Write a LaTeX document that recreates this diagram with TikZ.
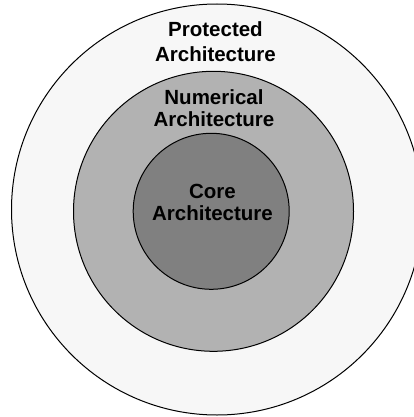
\documentclass[tikz,border=0pt]{standalone}
\usepackage{fontspec}
\setmainfont{Liberation Sans}
\definecolor{OuterClr}{gray}{0.97}
\definecolor{MidClr}{gray}{0.70}
\definecolor{CoreClr}{gray}{0.50}

\begin{document}
\begin{tikzpicture}[x=1pt,y=-1pt,
  ring/.style={circle,draw=black,line width=1pt,inner sep=0pt},
  lbl/.style={align=center,inner sep=0pt,anchor=north,
    font=\bfseries\fontsize{20.5}{22}\selectfont}]
\useasboundingbox (0,0) rectangle (414,417);

% the three nested layers
\node[ring,fill=OuterClr,minimum size=411pt] (prot) at (217,209.5) {};
\node[ring,fill=MidClr,minimum size=280pt] (num) at (213.5,211.3) {};
\node[ring,fill=CoreClr,minimum size=156pt] (core) at (211.2,211.3) {};

\node[lbl,font=\bfseries\fontsize{20.5}{25}\selectfont] (protlbl) at (215.5,21) {Protected\\Architecture};
\node[lbl] (numlbl) at (214,89.3) {Numerical\\Architecture};
\node[lbl] (corelbl) at (212.5,184) {Core\\Architecture};
\end{tikzpicture}
\end{document}
